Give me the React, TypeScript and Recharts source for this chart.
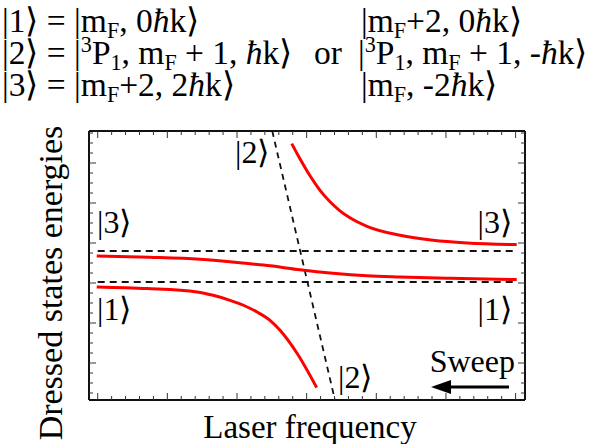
import React from "react";
import { LineChart, Line, XAxis, YAxis } from "recharts";

// ---- data (x: laser frequency units, y: energy units) ----
const levelX = [0, 30];
const level3Y = [14.2, 14.2];
const level1Y = [11.1, 11.1];

const state2X = [12.53, 17.03];
const state2Y = [26.2, -0.7];

const upperX = [13.93, 14.52, 15.24, 15.96, 16.68, 17.39, 18.11, 19.33, 21.7, 24.07, 26.51, 30.08];
const upperY = [24.94, 23.42, 21.72, 20.27, 19.12, 18.22, 17.52, 16.67, 15.77, 15.27, 15.0, 14.84];

const middleX = [-0.07, 3.75, 7.34, 10.93, 12.37, 14.52, 16.89, 19.33, 21.7, 25.29, 30.08];
const middleY = [13.7, 13.57, 13.37, 12.92, 12.72, 12.32, 11.97, 11.72, 11.6, 11.47, 11.34];

const lowerX = [-0.07, 3.54, 7.13, 8.28, 9.5, 10.5, 11.44, 12.37, 13.09, 14.31, 15.72];
const lowerY = [10.6, 10.44, 10.1, 9.77, 9.27, 8.75, 8.1, 7.27, 6.27, 3.97, 0.54];

const xTicks = Array.from({ length: 31 }, (_, i) => i);
const yTicks = Array.from({ length: 27 }, (_, i) => i);
const xDomain = [-0.625, 30.675];
const yDomain = [-0.7, 26.2];

const zip = (xs: number[], ys: number[]) => xs.map((x, i) => ({ x, y: ys[i] }));

const FONT = "Liberation Serif";
const RED = "#ff0000";
const DASH = "#111";

const isMajorX = (v: number) => v % 5 === 0;
const isMajorY = (v: number) => v % 4 === 3;

const mkTick = (side: "bottom" | "top" | "left" | "right") => (props: any) => {
  const { x, y, payload } = props;
  const v = payload.value;
  const len = (side === "bottom" || side === "top" ? isMajorX(v) : isMajorY(v)) ? 7 : 4;
  let x2 = x, y2 = y;
  if (side === "bottom") y2 = y - len;
  if (side === "top") y2 = y + len;
  if (side === "left") x2 = x + len;
  if (side === "right") x2 = x - len;
  return <line x1={x} y1={y} x2={x2} y2={y2} stroke="#333" strokeWidth={1} />;
};

const T = (p: any) => <text fontFamily={FONT} style={{ fontFamily: FONT }} fill="#000" {...p} />;

const Overlay = () => {
  const fs = 33.5;
  const s = fs * 0.66;
  const dn = 6;
  const up = 12;
  return (
    <svg width={589} height={444} style={{ position: "absolute", left: 0, top: 0, pointerEvents: "none" }}>
      {/* state definitions */}
      <T x={2} y={32} fontSize={fs}>
        |1⟩ = |m<tspan fontSize={s} dy={dn}>F</tspan><tspan dy={-dn}>, 0</tspan><tspan fontStyle="italic">ħ</tspan>k⟩
      </T>
      <T x={2} y={64} fontSize={fs}>
        |2⟩ = |<tspan fontSize={s} dy={-up}>3</tspan><tspan dy={up}>P</tspan><tspan fontSize={s} dy={dn}>1</tspan><tspan dy={-dn}>, m</tspan><tspan fontSize={s} dy={dn}>F</tspan><tspan dy={-dn}> + 1, </tspan><tspan fontStyle="italic">ħ</tspan>k⟩
      </T>
      <T x={2} y={96} fontSize={fs}>
        |3⟩ = |m<tspan fontSize={s} dy={dn}>F</tspan><tspan dy={-dn}>+2, 2</tspan><tspan fontStyle="italic">ħ</tspan>k⟩
      </T>
      <T x={314} y={64} fontSize={fs}>or</T>
      <T x={361} y={32} fontSize={fs}>
        |m<tspan fontSize={s} dy={dn}>F</tspan><tspan dy={-dn}>+2, 0</tspan><tspan fontStyle="italic">ħ</tspan>k⟩
      </T>
      <T x={358} y={64} fontSize={fs}>
        |<tspan fontSize={s} dy={-up}>3</tspan><tspan dy={up}>P</tspan><tspan fontSize={s} dy={dn}>1</tspan><tspan dy={-dn}>, m</tspan><tspan fontSize={s} dy={dn}>F</tspan><tspan dy={-dn}> + 1, -</tspan><tspan fontStyle="italic">ħ</tspan>k⟩
      </T>
      <T x={361} y={96} fontSize={fs}>
        |m<tspan fontSize={s} dy={dn}>F</tspan><tspan dy={-dn}>, -2</tspan><tspan fontStyle="italic">ħ</tspan>k⟩
      </T>

      {/* state labels in plot */}
      <T x={235} y={163} fontSize={32}>|2⟩</T>
      <T x={97} y={233} fontSize={32}>|3⟩</T>
      <T x={512} y={233} fontSize={32} textAnchor="end">|3⟩</T>
      <T x={97} y={320} fontSize={32}>|1⟩</T>
      <T x={512} y={320} fontSize={32} textAnchor="end">|1⟩</T>
      <T x={338} y={388} fontSize={32}>|2⟩</T>
      <T x={515} y={372} fontSize={32} textAnchor="end">Sweep</T>
      <line x1={509} y1={387} x2={446} y2={387} stroke="#000" strokeWidth={3} />
      <polygon points="431,387 451,380 451,394" fill="#000" />

      {/* axis titles */}
      <T x={62} y={283} fontSize={34} textAnchor="middle" transform="rotate(-90 62 283)">Dressed states energies</T>
      <T x={310} y={438} fontSize={33} textAnchor="middle">Laser frequency</T>
    </svg>
  );
};

export default function App() {
  const axisLine = { stroke: "#111", strokeWidth: 2 };
  return (
    <div style={{ position: "absolute", left: 0, top: 0, width: 589, height: 444, background: "#fff" }}>
      <LineChart width={589} height={444} margin={{ top: 111, right: 44, bottom: 24, left: 69 }}>
        <XAxis xAxisId="b" type="number" dataKey="x" domain={xDomain} allowDataOverflow ticks={xTicks} interval={0}
          height={20} tickSize={0} tickMargin={0} tick={mkTick("bottom")} axisLine={axisLine} />
        <XAxis xAxisId="t" orientation="top" type="number" dataKey="x" domain={xDomain} allowDataOverflow ticks={xTicks} interval={0}
          height={20} tickSize={0} tickMargin={0} tick={mkTick("top")} axisLine={axisLine} />
        <YAxis yAxisId="l" type="number" dataKey="y" domain={yDomain} allowDataOverflow ticks={yTicks} interval={0}
          width={20} tickSize={0} tickMargin={0} tick={mkTick("left")} axisLine={axisLine} />
        <YAxis yAxisId="r" orientation="right" type="number" dataKey="y" domain={yDomain} allowDataOverflow ticks={yTicks} interval={0}
          width={20} tickSize={0} tickMargin={0} tick={mkTick("right")} axisLine={axisLine} />

        <Line xAxisId="b" yAxisId="l" data={zip(levelX, level3Y)} dataKey="y" type="linear" stroke={DASH} strokeWidth={1.8}
          strokeDasharray="7 5" dot={false} isAnimationActive={false} />
        <Line xAxisId="t" yAxisId="r" data={zip(levelX, level1Y)} dataKey="y" type="linear" stroke={DASH} strokeWidth={1.8}
          strokeDasharray="7 5" dot={false} isAnimationActive={false} />
        <Line xAxisId="b" yAxisId="l" data={zip(state2X, state2Y)} dataKey="y" type="linear" stroke={DASH} strokeWidth={1.8}
          strokeDasharray="6 5" dot={false} isAnimationActive={false} />
        <Line xAxisId="b" yAxisId="l" data={zip(upperX, upperY)} dataKey="y" type="monotone" stroke={RED} strokeWidth={3}
          dot={false} isAnimationActive={false} />
        <Line xAxisId="b" yAxisId="l" data={zip(middleX, middleY)} dataKey="y" type="monotone" stroke={RED} strokeWidth={3}
          dot={false} isAnimationActive={false} />
        <Line xAxisId="b" yAxisId="l" data={zip(lowerX, lowerY)} dataKey="y" type="monotone" stroke={RED} strokeWidth={3}
          dot={false} isAnimationActive={false} />
      </LineChart>
      <Overlay />
    </div>
  );
}
